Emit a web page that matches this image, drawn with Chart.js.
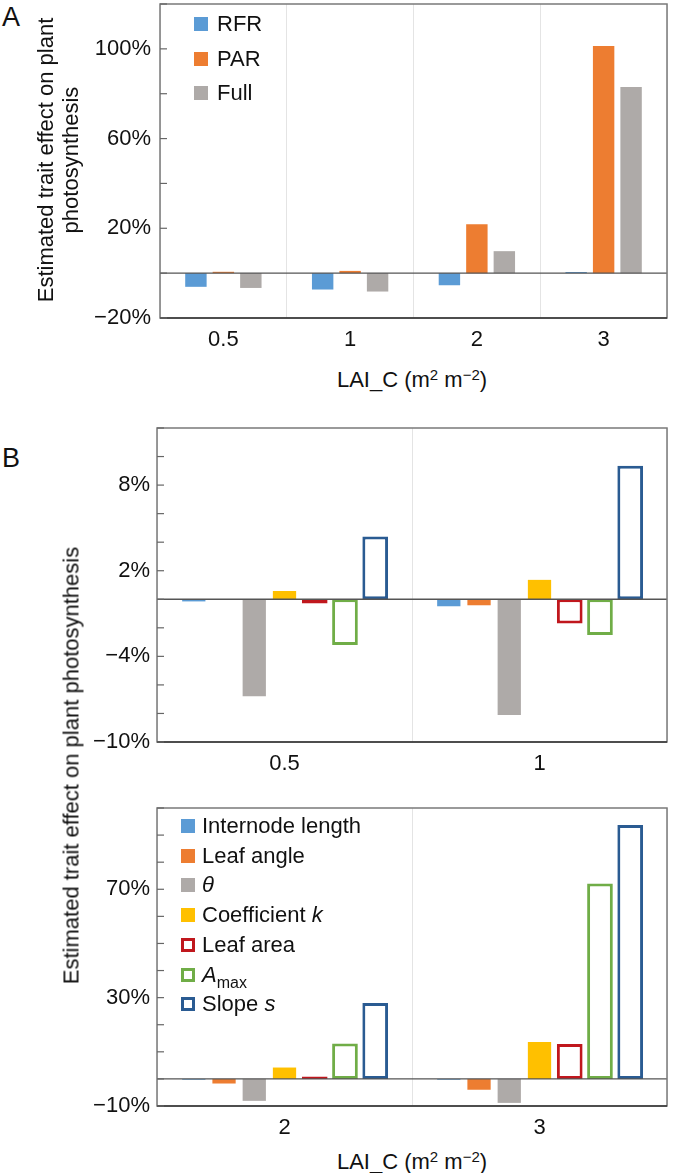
<!DOCTYPE html>
<html>
<head>
<meta charset="utf-8">
<script src="https://cdn.jsdelivr.net/npm/chart.js@4.4.1/dist/chart.umd.min.js"></script>
<style>
  body { margin: 0; background: #fff; }
  #wrap { position: relative; width: 673px; height: 1173px; font-family: "Liberation Sans", Arial, sans-serif; color: #111; }
  canvas { position: absolute; left: 0; }
  .txt { position: absolute; font-size: 22px; white-space: nowrap; line-height: 25px; }
  .rot { text-align: center; transform: rotate(-90deg); }
  .letter { position: absolute; font-size: 27px; left: 2px; }
  .lg { position: absolute; font-size: 22px; white-space: nowrap; }
  .lg i.sw { position: absolute; width: 14px; height: 14px; box-sizing: border-box; }
  .lg span { position: absolute; line-height: 24px; top: -12px; }
  sup { font-size: 15px; vertical-align: 0; position: relative; top: -7px; }
  sub { font-size: 16px; vertical-align: 0; position: relative; top: 6px; }
</style>
</head>
<body>
<div id="wrap">
  <div class="letter" style="top:2px">A</div>
  <div class="letter" style="top:443px">B</div>

  <canvas id="chartA" width="673" height="360" style="top:0"></canvas>
  <canvas id="chartB1" width="673" height="360" style="top:424px"></canvas>
  <canvas id="chartB2" width="673" height="344" style="top:804px"></canvas>

  <div class="txt rot" style="left:-102px; top:135px; width:320px; height:50px;">Estimated trait effect on plant<br>photosynthesis</div>
  <div class="txt rot" style="left:-179px; top:753px; width:500px; height:25px;">Estimated trait effect on plant photosynthesis</div>

  <div class="txt" style="left:262px; top:367px; width:300px; text-align:center;">LAI_C (m<sup>2</sup> m<sup>−2</sup>)</div>
  <div class="txt" style="left:262px; top:1149px; width:300px; text-align:center;">LAI_C (m<sup>2</sup> m<sup>−2</sup>)</div>

  <div id="legendA"></div>
  <div id="legendB"></div>
</div>

<script>
// LAI_C categories
const lai = ["0.5", "1", "2", "3"];

// Panel A: light environment components (%)
const rfr = [-6.1, -7.3, -5.4, 0.5];
const par = [0.6, 1.0, 21.8, 101.3];
const full = [-6.6, -8.2, 9.8, 83.0];

// Panel B: individual traits (%), one value per LAI_C
const internode = [-0.15, -0.49, -0.3, -0.3];
const leafAngle = [-0.05, -0.42, -1.7, -4.0];
const theta = [-6.8, -8.1, -8.1, -8.85];
const coefK = [0.58, 1.36, 4.2, 13.6];
const leafArea = [-0.3, -1.7, 0.9, 12.9];
const aMax = [-3.2, -2.5, 13.1, 72.1];
const slopeS = [4.4, 9.35, 28.0, 93.7];

// y tick labels shown
const ticksA = [-20, 20, 60, 100];
const ticksB1 = [-10, -4, 2, 8];
const ticksB2 = [-10, 30, 70];

const C = {
    blue: "#5b9bd5",
    orange: "#ed7d31",
    grey: "#aeaaa8",
    yellow: "#ffc000",
    red: "#c0171d",
    green: "#70ad47",
    navy: "#2a5b92",
};

Chart.defaults.font.family = '"Liberation Sans", Arial, sans-serif';
Chart.defaults.font.size = 22;
Chart.defaults.color = "#111";

function pct(v) {
    return (v < 0 ? "\u2212" + Math.abs(v) : v) + "%";
}

// frame, zero line and inward tick marks
const framePlugin = {
    id: "frame",
    afterDatasetsDraw(chart) {
        const { ctx, chartArea: a, scales } = chart;
        const y0 = scales.y.getPixelForValue(0);
        ctx.save();
        ctx.strokeStyle = "#555";
        ctx.lineWidth = 1.3;
        ctx.beginPath();
        ctx.moveTo(a.left, y0);
        ctx.lineTo(a.right, y0);
        ctx.stroke();
        ctx.restore();
    },
    afterDraw(chart) {
        const { ctx, chartArea: a, scales } = chart;
        ctx.save();
        ctx.strokeStyle = "#7a7a7a";
        ctx.lineWidth = 1.5;
        ctx.strokeRect(a.left, a.top, a.right - a.left, a.bottom - a.top);
        ctx.strokeStyle = "#333";
        ctx.beginPath();
        ctx.moveTo(a.left, a.bottom);
        ctx.lineTo(a.right, a.bottom);
        ctx.stroke();
        ctx.strokeStyle = "#666";
        ctx.lineWidth = 1.2;
        scales.y.ticks.forEach((t) => {
            const py = scales.y.getPixelForValue(t.value);
            ctx.beginPath();
            ctx.moveTo(a.left, py);
            ctx.lineTo(a.left + 7, py);
            ctx.stroke();
        });
        ctx.restore();
    },
};

function makeOptions(min, max, step, shown, yWidth, yPad) {
    return {
        responsive: false,
        animation: false,
        layout: { padding: { top: 4, right: 6, left: 0, bottom: 0 } },
        plugins: { legend: { display: false }, tooltip: { enabled: false } },
        scales: {
            x: {
                offset: true,
                grid: { offset: true, color: "#e4e4e4", lineWidth: 1, drawTicks: false },
                border: { display: false },
                ticks: { padding: 9, maxRotation: 0, autoSkip: false, color: "#111" },
                afterFit: (s) => {
                    s.height = 42;
                    s.paddingLeft = 0;
                    s.paddingRight = 0;
                },
            },
            y: {
                min: min,
                max: max,
                grid: { display: false, drawTicks: false },
                border: { display: false },
                ticks: {
                    stepSize: step,
                    padding: yPad,
                    autoSkip: false,
                    color: "#111",
                    callback: (v) => (shown.includes(v) ? pct(v) : ""),
                },
                afterFit: (s) => {
                    s.width = yWidth;
                    s.paddingTop = 0;
                    s.paddingBottom = 0;
                },
            },
        },
    };
}

function filled(label, data, color, cat, bar) {
    return {
        label: label,
        data: data,
        backgroundColor: color,
        borderWidth: 0,
        categoryPercentage: cat,
        barPercentage: bar,
    };
}

function outline(label, data, color, cat, bar) {
    return {
        label: label,
        data: data,
        backgroundColor: "#fff",
        borderColor: color,
        borderWidth: 3,
        borderSkipped: false,
        categoryPercentage: cat,
        barPercentage: bar,
    };
}

// Panel A
new Chart(document.getElementById("chartA"), {
    type: "bar",
    data: {
        labels: lai,
        datasets: [
            filled("RFR", rfr, C.blue, 0.65, 0.78),
            filled("PAR", par, C.orange, 0.65, 0.78),
            filled("Full", full, C.grey, 0.65, 0.78),
        ],
    },
    options: makeOptions(-20, 120, 20, ticksA, 160, 9),
    plugins: [framePlugin],
});

// Panel B
function traitSets(from, to) {
    const cat = 0.83;
    return [
        filled("Internode length", internode.slice(from, to), C.blue, cat, 0.77),
        filled("Leaf angle", leafAngle.slice(from, to), C.orange, cat, 0.77),
        filled("θ", theta.slice(from, to), C.grey, cat, 0.77),
        filled("Coefficient k", coefK.slice(from, to), C.yellow, cat, 0.77),
        outline("Leaf area", leafArea.slice(from, to), C.red, cat, 0.85),
        outline("Amax", aMax.slice(from, to), C.green, cat, 0.85),
        outline("Slope s", slopeS.slice(from, to), C.navy, cat, 0.85),
    ];
}

new Chart(document.getElementById("chartB1"), {
    type: "bar",
    data: { labels: lai.slice(0, 2), datasets: traitSets(0, 2) },
    options: makeOptions(-10, 12, 2, ticksB1, 157, 7),
    plugins: [framePlugin],
});

new Chart(document.getElementById("chartB2"), {
    type: "bar",
    data: { labels: lai.slice(2, 4), datasets: traitSets(2, 4) },
    options: makeOptions(-10, 100, 10, ticksB2, 157, 7),
    plugins: [framePlugin],
});

// Legends (HTML so the italic / subscript labels stay real text)
function legend(el, items, left, top, gap, textX) {
    let html = "";
    items.forEach((it, i) => {
        const y = top + i * gap;
        const sw = it.line
            ? `border:3px solid ${it.color};background:#fff;`
            : `background:${it.color};`;
        html += `<div class="lg" style="left:${left}px;top:${y}px;">` +
            `<i class="sw" style="left:0;top:-7px;${sw}"></i>` +
            `<span style="left:${textX}px;">${it.html}</span></div>`;
    });
    document.getElementById(el).innerHTML = html;
}

legend("legendA", [
    { color: C.blue, html: "RFR" },
    { color: C.orange, html: "PAR" },
    { color: C.grey, html: "Full" },
], 194, 24, 34.7, 23);

legend("legendB", [
    { color: C.blue, html: "Internode length" },
    { color: C.orange, html: "Leaf angle" },
    { color: C.grey, html: "<i>θ</i>" },
    { color: C.yellow, html: "Coefficient <i>k</i>" },
    { color: C.red, html: "Leaf area", line: true },
    { color: C.green, html: "<i>A</i><sub>max</sub>", line: true },
    { color: C.navy, html: "Slope <i>s</i>", line: true },
], 181, 826, 29.7, 21);
</script>
</body>
</html>
